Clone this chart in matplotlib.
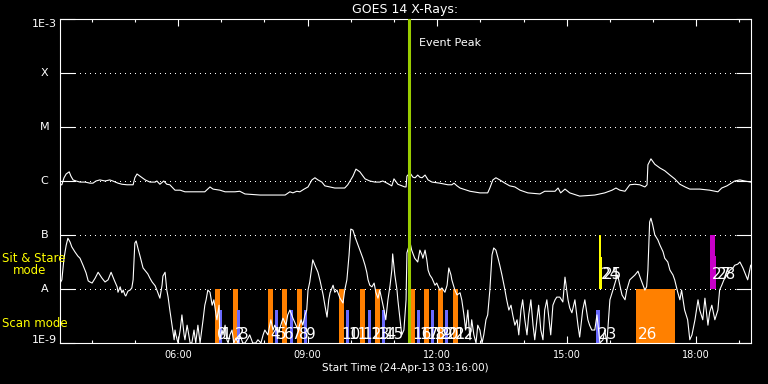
import matplotlib
matplotlib.use("Agg")
import matplotlib.pyplot as plt
import matplotlib.transforms as mtransforms
import numpy as np

# GOES 14, 24-Apr-2013. Time in decimal hours (UT), flux as log10(W/m^2)
long_t = [3.27, 3.31, 3.36, 3.41, 3.48, 3.52, 3.57, 3.64, 3.73, 3.85,
          3.96, 4.03, 4.10, 4.19, 4.31, 4.42, 4.49, 4.61, 4.70, 4.82,
          4.96, 5.00, 5.05, 5.12, 5.24, 5.35, 5.47, 5.51, 5.58, 5.67,
          5.74, 5.81, 5.93, 6.05, 6.16, 6.39, 6.62, 6.74, 6.81, 6.97,
          7.09, 7.32, 7.43, 7.55, 7.90, 8.24, 8.48, 8.59, 8.66, 8.75,
          8.82, 8.92, 9.01, 9.10, 9.17, 9.24, 9.33, 9.40, 9.63, 9.86,
          9.93, 10.05, 10.12, 10.21, 10.33, 10.44, 10.56, 10.67, 10.74, 10.84,
          10.95, 11.00, 11.09, 11.25, 11.28, 11.30, 11.37, 11.44, 11.49, 11.55,
          11.60, 11.65, 11.72, 11.79, 11.88, 12.06, 12.25, 12.34, 12.39, 12.46,
          12.53, 12.76, 12.99, 13.17, 13.22, 13.29, 13.36, 13.45, 13.57, 13.68,
          13.80, 13.92, 14.10, 14.38, 14.49, 14.73, 14.80, 14.86, 14.96, 15.07,
          15.30, 15.65, 15.88, 16.05, 16.14, 16.23, 16.35, 16.46, 16.58, 16.69,
          16.81, 16.86, 16.88, 16.95, 17.04, 17.16, 17.27, 17.39, 17.50, 17.62,
          17.74, 17.85, 18.08, 18.31, 18.50, 18.59, 18.71, 18.89, 19.01, 19.12,
          19.26]
long_logf = [-6.07, -6.07, -5.94, -5.87, -5.83, -5.91, -5.98, -6.00, -6.02, -6.02,
             -6.04, -6.04, -6.00, -5.98, -6.00, -5.98, -6.00, -6.04, -6.06, -6.07,
             -6.07, -5.94, -5.87, -5.91, -5.98, -6.02, -6.02, -6.00, -6.06, -6.00,
             -6.06, -6.07, -6.17, -6.17, -6.20, -6.20, -6.20, -6.11, -6.15, -6.17,
             -6.20, -6.20, -6.19, -6.24, -6.26, -6.26, -6.26, -6.20, -6.22, -6.19,
             -6.20, -6.15, -6.11, -5.98, -5.94, -5.98, -6.02, -6.09, -6.13, -6.13,
             -6.07, -5.91, -5.78, -5.83, -5.96, -6.00, -6.02, -6.02, -6.00, -6.04,
             -6.09, -5.96, -6.06, -6.11, -6.11, -5.91, -5.85, -5.93, -5.94, -5.89,
             -5.93, -5.94, -5.89, -5.98, -6.02, -6.04, -6.07, -6.07, -6.04, -6.09,
             -6.13, -6.19, -6.22, -6.22, -6.13, -5.98, -5.94, -5.98, -6.04, -6.09,
             -6.11, -6.17, -6.22, -6.24, -6.19, -6.19, -6.13, -6.22, -6.15, -6.22,
             -6.28, -6.26, -6.22, -6.17, -6.13, -6.17, -6.19, -6.07, -6.06, -6.07,
             -6.11, -6.07, -5.70, -5.59, -5.69, -5.76, -5.81, -5.89, -5.96, -6.06,
             -6.11, -6.15, -6.15, -6.17, -6.20, -6.13, -6.09, -6.00, -5.98, -6.00,
             -6.02]

short_t = [3.27, 3.31, 3.36, 3.41, 3.45, 3.50, 3.54, 3.61, 3.68, 3.73,
           3.80, 3.87, 3.92, 3.96, 4.01, 4.08, 4.15, 4.19, 4.24, 4.31,
           4.38, 4.45, 4.52, 4.59, 4.61, 4.66, 4.70, 4.73, 4.77, 4.79,
           4.84, 4.89, 4.93, 4.96, 5.00, 5.03, 5.07, 5.12, 5.19, 5.23,
           5.30, 5.35, 5.40, 5.47, 5.51, 5.58, 5.63, 5.65, 5.70, 5.74,
           5.77, 5.81, 5.86, 5.91, 5.93, 5.95, 6.00, 6.05, 6.09, 6.14,
           6.16, 6.21, 6.23, 6.28, 6.32, 6.37, 6.41, 6.46, 6.51, 6.58,
           6.62, 6.65, 6.69, 6.74, 6.79, 6.83, 6.88, 6.90, 6.95, 6.97,
           7.02, 7.04, 7.09, 7.13, 7.16, 7.20, 7.25, 7.29, 7.34, 7.39,
           7.43, 7.50, 7.55, 7.62, 7.66, 7.73, 7.80, 7.85, 7.92, 7.97,
           8.01, 8.08, 8.15, 8.20, 8.24, 8.31, 8.36, 8.43, 8.50, 8.54,
           8.59, 8.66, 8.73, 8.78, 8.85, 8.89, 8.94, 8.98, 9.01, 9.05,
           9.12, 9.17, 9.24, 9.29, 9.36, 9.40, 9.45, 9.49, 9.52, 9.59,
           9.63, 9.68, 9.75, 9.82, 9.86, 9.91, 9.96, 10.00, 10.05, 10.10,
           10.17, 10.21, 10.28, 10.33, 10.37, 10.40, 10.44, 10.49, 10.54, 10.58,
           10.63, 10.67, 10.72, 10.77, 10.81, 10.86, 10.91, 10.95, 10.97, 11.02,
           11.07, 11.09, 11.14, 11.18, 11.23, 11.28, 11.30, 11.35, 11.37, 11.41,
           11.48, 11.55, 11.60, 11.65, 11.67, 11.72, 11.76, 11.79, 11.83, 11.88,
           11.95, 11.99, 12.06, 12.11, 12.18, 12.23, 12.27, 12.32, 12.34, 12.41,
           12.46, 12.53, 12.57, 12.62, 12.66, 12.71, 12.76, 12.80, 12.85, 12.90,
           12.94, 12.99, 13.04, 13.08, 13.13, 13.17, 13.22, 13.27, 13.31, 13.36,
           13.41, 13.45, 13.50, 13.57, 13.61, 13.66, 13.71, 13.75, 13.80, 13.85,
           13.89, 13.94, 13.98, 14.03, 14.08, 14.12, 14.17, 14.22, 14.26, 14.31,
           14.35, 14.40, 14.45, 14.49, 14.54, 14.59, 14.63, 14.68, 14.73, 14.77,
           14.84, 14.91, 14.96, 15.03, 15.07, 15.12, 15.19, 15.26, 15.30, 15.37,
           15.42, 15.49, 15.53, 15.58, 15.65, 15.70, 15.77, 15.84, 15.88, 15.93,
           16.00, 16.07, 16.14, 16.18, 16.23, 16.28, 16.35, 16.39, 16.46, 16.58,
           16.65, 16.72, 16.81, 16.85, 16.88, 16.92, 16.95, 16.99, 17.04, 17.11,
           17.16, 17.23, 17.27, 17.34, 17.39, 17.46, 17.50, 17.57, 17.62, 17.66,
           17.73, 17.80, 17.85, 17.90, 17.97, 18.04, 18.08, 18.15, 18.20, 18.27,
           18.31, 18.36, 18.43, 18.50, 18.54, 18.59, 18.64, 18.71, 18.78, 18.85,
           18.89, 18.96, 19.01, 19.08, 19.12, 19.19, 19.26]
short_logf = [-7.89, -7.83, -7.43, -7.19, -7.06, -7.13, -7.22, -7.31, -7.39, -7.43,
              -7.56, -7.70, -7.85, -7.87, -7.89, -7.80, -7.69, -7.74, -7.80, -7.87,
              -7.83, -7.69, -7.83, -7.96, -8.06, -7.96, -8.07, -8.02, -8.11, -8.13,
              -8.04, -8.02, -7.98, -7.83, -7.15, -7.11, -7.24, -7.39, -7.61, -7.65,
              -7.72, -7.80, -7.87, -7.94, -8.02, -8.17, -7.93, -7.76, -7.69, -8.02,
              -8.15, -8.39, -8.67, -8.94, -8.76, -8.85, -9.00, -8.76, -8.48, -8.85,
              -8.94, -8.67, -8.76, -9.00, -9.00, -8.76, -9.00, -8.67, -9.00, -8.57,
              -8.30, -8.20, -8.02, -8.06, -8.30, -8.20, -8.48, -8.57, -8.30, -8.94,
              -8.76, -8.85, -8.67, -8.94, -9.00, -8.85, -8.76, -9.00, -8.91, -9.00,
              -8.85, -9.00, -9.00, -8.91, -8.85, -9.00, -9.00, -8.94, -9.00, -8.85,
              -8.76, -8.85, -8.57, -8.76, -8.67, -8.81, -8.72, -8.54, -8.67, -8.48,
              -8.39, -8.54, -8.67, -8.76, -8.57, -8.67, -8.48, -8.39, -8.02, -7.87,
              -7.46, -7.56, -7.69, -7.85, -8.11, -8.30, -8.52, -8.20, -8.07, -7.93,
              -8.06, -8.02, -8.17, -8.26, -8.02, -7.83, -7.37, -6.89, -6.91, -7.04,
              -7.19, -7.28, -7.43, -7.56, -7.69, -7.83, -7.93, -7.96, -7.89, -8.06,
              -8.17, -8.02, -8.20, -8.39, -8.57, -8.20, -7.93, -7.65, -7.35, -7.74,
              -8.02, -8.20, -8.57, -8.85, -8.76, -8.20, -7.33, -7.20, -7.13, -7.28,
              -7.43, -7.50, -7.28, -7.37, -7.43, -7.28, -7.46, -7.65, -7.74, -7.80,
              -7.93, -7.89, -8.02, -7.98, -8.06, -7.93, -7.61, -7.74, -7.83, -8.02,
              -8.11, -8.07, -8.20, -8.48, -8.76, -8.39, -8.94, -8.57, -8.85, -9.00,
              -8.67, -8.76, -9.00, -8.85, -8.57, -8.48, -8.02, -7.37, -7.24, -7.28,
              -7.43, -7.56, -7.74, -8.02, -8.20, -8.39, -8.30, -8.48, -8.67, -8.57,
              -8.85, -8.39, -8.20, -8.57, -8.85, -8.48, -8.20, -8.67, -8.94, -8.57,
              -8.30, -8.76, -8.94, -8.39, -8.20, -8.57, -8.85, -8.30, -8.20, -8.15,
              -8.15, -8.24, -7.78, -8.20, -8.35, -8.44, -8.20, -8.67, -8.89, -8.39,
              -8.20, -8.57, -8.67, -8.76, -8.76, -8.48, -9.00, -8.94, -8.76, -9.00,
              -8.20, -8.02, -7.83, -7.74, -7.93, -8.11, -8.20, -8.02, -7.83, -7.74,
              -7.67, -7.83, -8.02, -7.96, -7.65, -6.76, -6.69, -6.81, -7.00, -7.09,
              -7.19, -7.31, -7.43, -7.50, -7.65, -7.74, -7.83, -8.06, -8.20, -8.02,
              -8.39, -8.57, -8.94, -8.85, -8.57, -8.20, -8.39, -8.57, -8.17, -8.67,
              -8.43, -8.30, -8.57, -8.39, -8.02, -7.93, -7.83, -7.74, -7.65, -7.61,
              -7.56, -7.54, -7.50, -7.61, -7.69, -7.83, -7.56]

# observations: start / end hour, top of marker (log10 flux), id
scan_ids = [0, 2, 4, 6, 8, 10, 12, 14, 16, 18, 20, 22, 26]
scan_start = [6.86, 7.27, 8.08, 8.41, 8.75, 9.73, 10.21, 10.56, 11.37, 11.69, 12.02, 12.36, 16.60]
scan_end = [6.97, 7.39, 8.20, 8.52, 8.87, 9.84, 10.33, 10.67, 11.49, 11.81, 12.13, 12.48, 17.50]

raster_ids = [1, 3, 5, 7, 9, 11, 13, 15, 17, 19, 21, 23]
raster_start = [6.95, 7.36, 8.24, 8.59, 8.92, 9.89, 10.40, 10.72, 11.53, 11.86, 12.18, 15.67]
raster_end = [7.02, 7.43, 8.31, 8.66, 8.99, 9.96, 10.47, 10.79, 11.60, 11.93, 12.25, 15.76]
raster_top = -8.39

sit_ids = [24, 25]
sit_start = [15.74, 15.79]
sit_end = [15.79, 15.82]
sit_top = [-7.0, -7.41]

sit2_ids = [27, 28]
sit2_start = [18.31, 18.43]
sit2_end = [18.43, 18.46]
sit2_top = [-7.0, -7.39]

event_peak = 11.35

ylevels = [1e-9, 1e-8, 1e-7, 1e-6, 1e-5, 1e-4, 1e-3]
ylabels = ["1E-9", "A", "B", "C", "M", "X", "1E-3"]
xticks = [6, 9, 12, 15, 18]
xlabels = ["06:00", "09:00", "12:00", "15:00", "18:00"]

ORANGE = "#ff8000"
BLUE = "#6a6aff"
YELLOW = "#ffff00"
MAGENTA = "#c800c8"
GREEN = "#99cc00"

fig = plt.figure(figsize=(7.68, 3.84), dpi=100, facecolor="black")
ax = fig.add_axes([60 / 768, 1 - 343 / 384, 691 / 768, 324 / 384])
ax.set_facecolor("black")
ax.set_yscale("log")
ax.set_xlim(3.267, 19.267)
ax.set_ylim(1e-9, 1e-3)

for lv in ylevels[1:-1]:
    ax.axhline(lv, color="white", lw=0.72, ls=(0, (1, 5)), zorder=1,
               antialiased=False)

def draw_bars(starts, ends, tops, color, ids, label_y):
    tops = np.broadcast_to(np.asarray(tops, dtype=float), (len(starts),))
    lo = 1e-9 if label_y < -8.5 else 1e-8
    for s, e, tp in zip(starts, ends, tops):
        ax.bar(s, 10 ** tp - lo, bottom=lo, width=e - s, align="edge",
               color=color, linewidth=0, zorder=2)
    for s, i in zip(starts, ids):
        ax.annotate(str(i), xy=(s, 10 ** label_y), xytext=(1.5, 0),
                    textcoords="offset points", color="white", fontsize=11,
                    ha="left", va="baseline", zorder=5)

draw_bars(scan_start, scan_end, -8.0, ORANGE, scan_ids, -8.93)
draw_bars(raster_start, raster_end, raster_top, BLUE, raster_ids, -8.93)
draw_bars(sit_start, sit_end, sit_top, YELLOW, sit_ids, -7.82)
draw_bars(sit2_start, sit2_end, sit2_top, MAGENTA, sit2_ids, -7.82)

ax.plot(long_t, 10 ** np.array(long_logf), color="white", lw=0.8, zorder=4)
ax.plot(short_t, 10 ** np.array(short_logf), color="white", lw=0.8, zorder=4)

ax.axvline(event_peak, color=GREEN, lw=2.2, zorder=6)
ax.annotate("Event Peak", xy=(event_peak, 1e-3), xytext=(7, -17),
            textcoords="offset points", color="white", fontsize=8,
            ha="left", va="center")

for sp in ax.spines.values():
    sp.set_color("white")
    sp.set_linewidth(0.8)

ax.set_yticks(ylevels)
ax.yaxis.set_minor_locator(matplotlib.ticker.NullLocator())
ax.tick_params(axis="y", which="major", direction="in", length=10.5, width=0.8,
               color="white", left=True, right=True, labelleft=False)
ytrans = mtransforms.blended_transform_factory(fig.transFigure, ax.transData)
for lv, lab in zip(ylevels, ylabels):
    va = "center"
    if lab == "1E-3":
        va = "top"
    elif lab == "1E-9":
        va = "baseline"
    ax.text(44.5 / 768, lv, lab, transform=ytrans, color="white", fontsize=8,
            ha="center", va=va, clip_on=False)

ax.set_xticks(xticks, xlabels)
ax.set_xticks(range(4, 20), minor=True)
ax.tick_params(axis="x", which="major", direction="in", length=5, width=0.8,
               color="white", labelcolor="white", labelsize=7, pad=5,
               top=True, bottom=True)
ax.tick_params(axis="x", which="minor", direction="in", length=2.5, width=0.8,
               color="white", top=True, bottom=True)

fig.text(405 / 768, 1 - 9.5 / 384, "GOES 14 X-Rays:", color="white",
         fontsize=9, ha="center", va="center")
fig.text(405 / 768, 1 - 368 / 384, "Start Time (24-Apr-13 03:16:00)",
         color="white", fontsize=7.5, ha="center", va="center")
fig.text(2 / 768, 1 - 259 / 384, "Sit & Stare", color=YELLOW, fontsize=8.5,
         ha="left", va="center", zorder=10)
fig.text(13 / 768, 1 - 271 / 384, "mode", color=YELLOW, fontsize=8.5,
         ha="left", va="center", zorder=10)
fig.text(2 / 768, 1 - 323.5 / 384, "Scan mode", color=YELLOW, fontsize=8.5,
         ha="left", va="center", zorder=10)

fig.savefig("out.png", dpi=100, facecolor="black")
